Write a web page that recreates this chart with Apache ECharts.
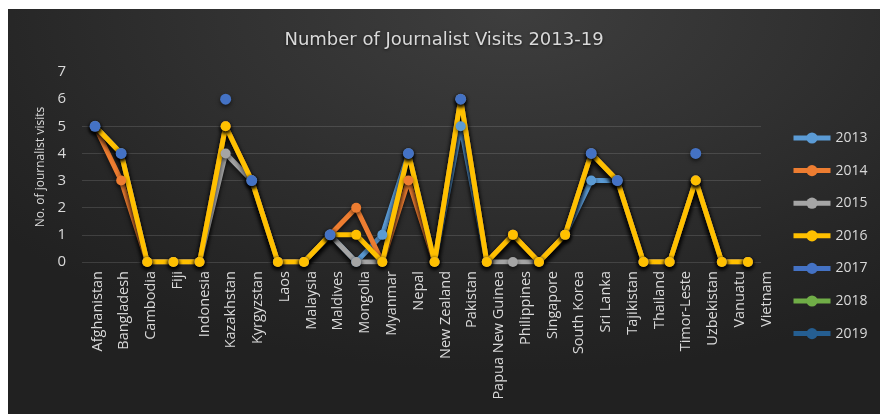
<!DOCTYPE html>
<html>
<head>
<meta charset="utf-8">
<script src="https://cdn.jsdelivr.net/npm/echarts@6/dist/echarts.min.js"></script>
<style>
  html, body { margin: 0; padding: 0; background: #ffffff; }
  #chart {
    position: absolute; left: 8px; top: 9px; width: 872px; height: 405px;
    background:
      radial-gradient(ellipse 75% 90% at 58% 0%, #3e3e3e 0%, #313131 45%, #262626 80%, #212121 100%);
  }
</style>
</head>
<body>
<div id="chart"></div>
<script>
// Countries on the category axis
const countries = [
  'Afghanistan', 'Bangladesh', 'Cambodia', 'Fiji', 'Indonesia', 'Kazakhstan',
  'Kyrgyzstan', 'Laos', 'Malaysia', 'Maldives', 'Mongolia', 'Myanmar', 'Nepal',
  'New Zealand', 'Pakistan', 'Papua New Guinea', 'Philippines', 'Singapore',
  'South Korea', 'Sri Lanka', 'Tajikistan', 'Thailand', 'Timor-Leste',
  'Uzbekistan', 'Vanuatu', 'Vietnam'
];

// Journalist visits per country, one array per year
const visits2013 = [5, 4, 0, 0, 0, 5, 3, 0, 0, 1, 0, 1, 4, 0, 5, 0, 1, 0, 1, 3, 3, 0, 0, 3, 0, 0];
const visits2014 = [5, 3, 0, 0, 0, 5, 3, 0, 0, 1, 2, 0, 3, 0, 6, 0, 1, 0, 1, 4, 3, 0, 0, 3, 0, 0];
const visits2015 = [5, 4, 0, 0, 0, 4, 3, 0, 0, 1, 0, 0, 4, 0, 6, 0, 0, 0, 1, 4, 3, 0, 0, 3, 0, 0];
const visits2016 = [5, 4, 0, 0, 0, 5, 3, 0, 0, 1, 1, 0, 4, 0, 6, 0, 1, 0, 1, 4, 3, 0, 0, 3, 0, 0];
const visits2017 = [5, 4, null, null, null, 6, 3, null, null, 1, null, null, 4, null, 6, null, null, null, null, 4, 3, null, null, 4, null, null];
const visits2018 = [];
const visits2019 = [];

// Y axis ticks
const yTicks = [0, 1, 2, 3, 4, 5, 6, 7];

const years = ['2013', '2014', '2015', '2016', '2017', '2018', '2019'];
const yearData = [visits2013, visits2014, visits2015, visits2016, visits2017, visits2018, visits2019];
const yearColors = ['#5B9BD5', '#ED7D31', '#A5A5A5', '#FFC000', '#4472C4', '#70AD47', '#255E91'];
// 2017 is shown as markers only
const markersOnly = [false, false, false, false, true, false, false];

const textColor = '#d9d9d9';
const fontFamily = '"Open Sans", "Noto Sans", sans-serif';

const series = years.map((y, i) => ({
  name: y,
  type: 'line',
  xAxisIndex: 0,
  yAxisIndex: 0,
  data: yearData[i],
  symbol: 'circle',
  symbolSize: markersOnly[i] ? 11 : 10,
  showAllSymbol: true,
  connectNulls: false,
  animation: false,
  color: yearColors[i],
  lineStyle: {
    width: 5,
    color: yearColors[i],
    opacity: markersOnly[i] ? 0 : 1,
    shadowColor: 'rgba(0,0,0,0.65)',
    shadowBlur: 5,
    shadowOffsetY: 3
  },
  itemStyle: {
    color: yearColors[i],
    shadowColor: 'rgba(0,0,0,0.6)',
    shadowBlur: 4,
    shadowOffsetY: 2
  },
  emphasis: { disabled: true }
}));

const chart = echarts.init(document.getElementById('chart'), null, { renderer: 'canvas' });

chart.setOption({
  backgroundColor: 'transparent',
  animation: false,
  title: {
    text: 'Number of Journalist Visits 2013-19',
    left: 'center',
    top: 17,
    textStyle: {
      color: textColor,
      fontFamily: '"DejaVu Sans", sans-serif',
      fontWeight: 'normal',
      fontSize: 18,
      textShadowColor: 'rgba(0,0,0,0.6)',
      textShadowBlur: 3,
      textShadowOffsetY: 1
    }
  },
  legend: {
    orient: 'vertical',
    left: 778,
    top: 117,
    itemWidth: 37,
    itemHeight: 14,
    itemGap: 18.6,
    data: years.map((y, i) => ({
      name: y,
      lineStyle: { opacity: 1, width: 5, color: yearColors[i] },
      itemStyle: { color: yearColors[i] }
    })),
    textStyle: { color: textColor, fontFamily: fontFamily, fontSize: 14 }
  },
  grid: [
    // plot area
    { left: 74, right: 119, top: 63, bottom: 152 },
    // category label band, spread a little wider than the plot
    { left: 76, right: 100, top: 63, bottom: 152 }
  ],
  xAxis: [
    {
      type: 'category',
      gridIndex: 0,
      data: countries,
      boundaryGap: true,
      axisLine: { show: false },
      axisTick: { show: false },
      axisLabel: { show: false },
      splitLine: { show: false }
    },
    {
      type: 'category',
      gridIndex: 1,
      data: countries,
      boundaryGap: true,
      axisLine: { show: false },
      axisTick: { show: false },
      axisLabel: {
        show: true,
        rotate: 90,
        interval: 0,
        margin: 9,
        color: textColor,
        fontFamily: fontFamily,
        fontSize: 14.5
      },
      splitLine: { show: false }
    }
  ],
  yAxis: [
    {
      type: 'value',
      gridIndex: 0,
      min: yTicks[0],
      max: yTicks[yTicks.length - 1],
      interval: 1,
      name: 'No. of journalist visits',
      nameLocation: 'middle',
      nameGap: 25,
      nameTextStyle: { color: textColor, fontFamily: fontFamily, fontSize: 12 },
      axisLine: { show: false },
      axisTick: { show: false },
      axisLabel: { color: textColor, fontFamily: fontFamily, fontSize: 15, margin: 16 },
      splitLine: {
        show: true,
        lineStyle: {
          width: 1,
          // gridlines for 0..5; the top two are not drawn
          color: yTicks.map(t => (t <= 5 ? 'rgba(255,255,255,0.13)' : 'rgba(0,0,0,0)'))
        }
      }
    },
    {
      type: 'value',
      gridIndex: 1,
      min: yTicks[0],
      max: yTicks[yTicks.length - 1],
      show: false
    }
  ],
  series: series
});
</script>
</body>
</html>
